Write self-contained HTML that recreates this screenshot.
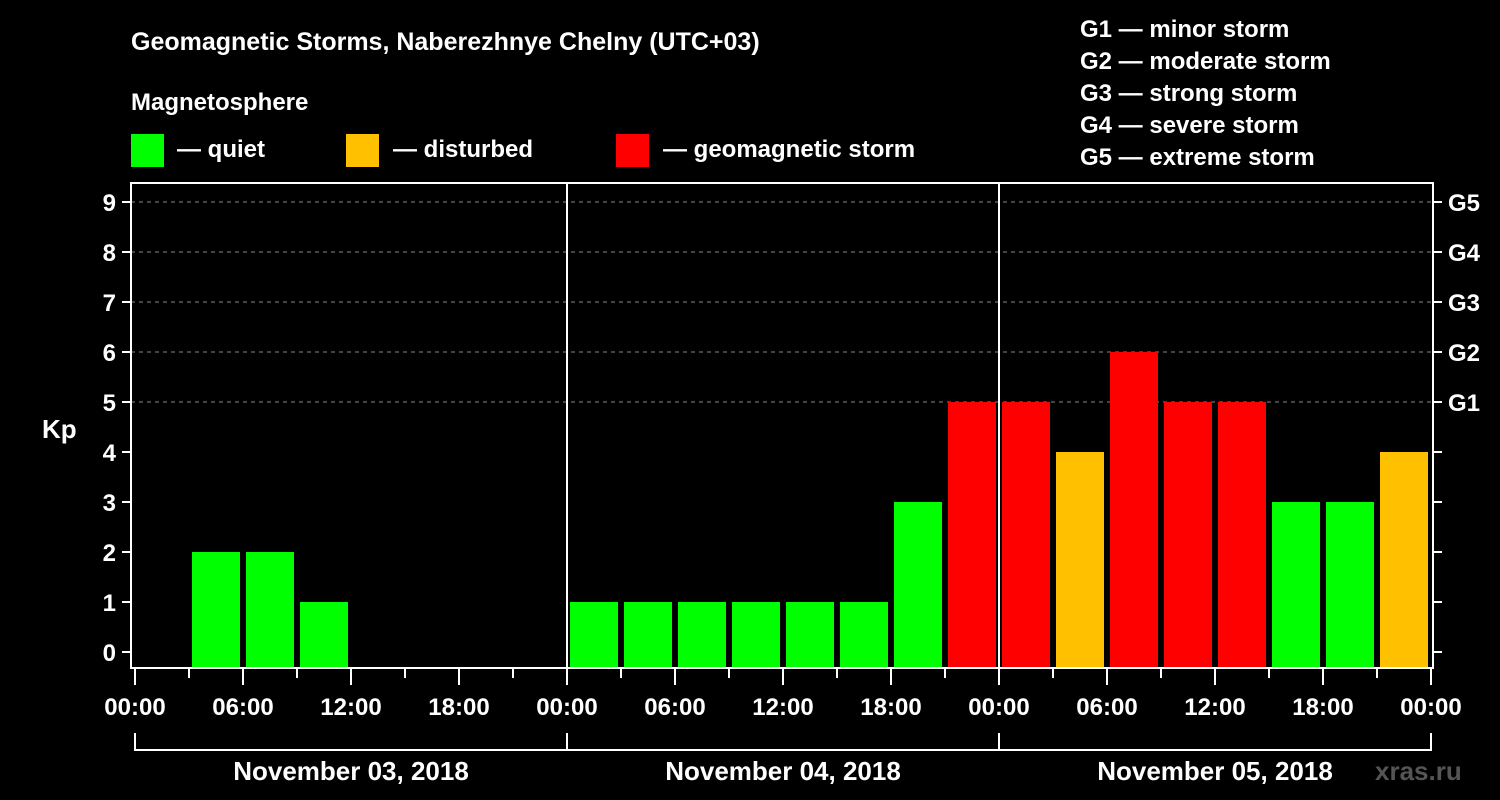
<!DOCTYPE html>
<html><head><meta charset="utf-8"><style>
body{margin:0;background:#000;width:1500px;height:800px;overflow:hidden}
svg{display:block;font-family:"Liberation Sans",Arial,sans-serif;font-weight:bold;fill:#fff}
</style></head><body>
<svg id="c" width="1500" height="800">
<text x="131" y="50" font-size="25">Geomagnetic Storms, Naberezhnye Chelny (UTC+03)</text>
<text x="131" y="110" font-size="24">Magnetosphere</text>
<g><rect x="131" y="134" width="33" height="33" fill="#00ff00"/><text x="177" y="157" font-size="24">— quiet</text></g>
<g><rect x="346" y="134" width="33" height="33" fill="#ffc000"/><text x="393" y="157" font-size="24">— disturbed</text></g>
<g><rect x="616" y="134" width="33" height="33" fill="#ff0000"/><text x="663" y="157" font-size="24">— geomagnetic storm</text></g>
<g font-size="24">
<text x="1080" y="37">G1 — minor storm</text><text x="1080" y="69">G2 — moderate storm</text><text x="1080" y="101">G3 — strong storm</text><text x="1080" y="133">G4 — severe storm</text><text x="1080" y="165">G5 — extreme storm</text></g>
<text x="42" y="438" font-size="26">Kp</text>
<g id="grid"></g><g id="bars"></g><g id="axes"></g>
<text x="1375" y="780" font-size="26" fill="#555" style="fill:#555">xras.ru</text>
</svg>
<script>
const kpValues=[0,2,2,1,0,0,0,0, 1,1,1,1,1,1,3,5, 5,4,6,5,5,3,3,4];
const dayLabels=["November 03, 2018","November 04, 2018","November 05, 2018"];
const timeLabels=["00:00","06:00","12:00","18:00"];
const gLabels=["G1","G2","G3","G4","G5"];
const NS="http://www.w3.org/2000/svg";
const X0=135,PXH=18,Y0=652,PXK=50,BOT=668,TOP=183,L=131,R=1433;
const xs=h=>X0+h*PXH, ys=k=>Y0-k*PXK;
function mk(t,a,p){const e=document.createElementNS(NS,t);for(const k in a)e.setAttribute(k,a[k]);p.appendChild(e);return e;}
const grid=document.getElementById('grid'),bars=document.getElementById('bars'),axes=document.getElementById('axes');
for(let k=5;k<=9;k++){const l=mk('line',{x1:L,x2:R,y1:ys(k),y2:ys(k),stroke:'#888','stroke-dasharray':'4,4','stroke-width':1},grid);

}
kpValues.forEach((v,i)=>{if(v<=0)return;
const c=v>=5?'#ff0000':v>=4?'#ffc000':'#00ff00';
const r=mk('rect',{x:xs(i*3)+3,y:ys(v),width:3*PXH-6,height:BOT-ys(v),fill:c},bars);

});
mk('rect',{x:L,y:TOP,width:R-L,height:BOT-TOP,fill:'none',stroke:'#fff','stroke-width':2},axes);
for(let d=1;d<3;d++)mk('line',{x1:xs(d*24),x2:xs(d*24),y1:TOP,y2:BOT,stroke:'#fff','stroke-width':2},axes);
for(let k=0;k<=9;k++){mk('line',{x1:L-9,x2:L,y1:ys(k),y2:ys(k),stroke:'#fff','stroke-width':2},axes);
mk('line',{x1:R,x2:R+9,y1:ys(k),y2:ys(k),stroke:'#fff','stroke-width':2},axes);
const t=mk('text',{x:116,y:ys(k)+9,'font-size':24,'text-anchor':'end'},axes);t.textContent=k;

}
gLabels.forEach((g,i)=>{const t=mk('text',{x:1448,y:ys(i+5)+9,'font-size':24},axes);t.textContent=g;

});
for(let h=0;h<=72;h+=3){const major=h%6==0;mk('line',{x1:xs(h),x2:xs(h),y1:BOT,y2:major?685:678,stroke:'#fff','stroke-width':2},axes);
if(major){const t=mk('text',{x:xs(h),y:715,'font-size':24,'text-anchor':'middle'},axes);t.textContent=timeLabels[(h/6)%4];

}}
dayLabels.forEach((d,i)=>{const a=xs(i*24),b=xs(i*24+24);
mk('path',{d:`M${a} 733V750H${b}`+(i==2?'V733':''),stroke:'#fff','stroke-width':2,fill:'none'},axes);
const t=mk('text',{x:(a+b)/2,y:780,'font-size':26,'text-anchor':'middle'},axes);t.textContent=d;

});
</script></body></html>
